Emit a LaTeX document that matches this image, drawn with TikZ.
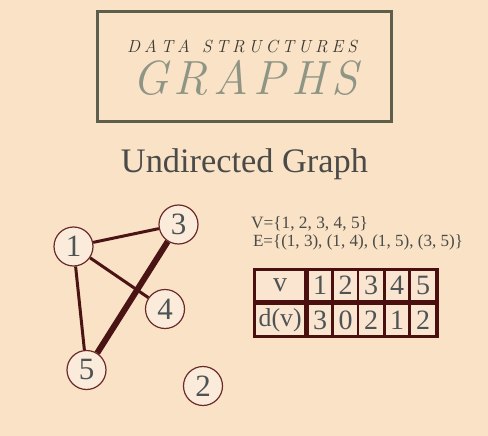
\documentclass[tikz,border=0pt]{standalone}
\usepackage{fontspec}
\newfontfamily\lib{Liberation Serif}
\definecolor{bg}{HTML}{F9E2C6}
\definecolor{framec}{HTML}{5E5E4C}
\definecolor{darktext}{HTML}{3C3A33}
\definecolor{graphsgray}{HTML}{8F9585}
\definecolor{titletext}{HTML}{4A4A48}
\definecolor{edgec}{HTML}{4B1414}
\definecolor{vborder}{HTML}{6B2A2A}
\definecolor{vfill}{HTML}{FBEBDB}
\definecolor{tabdark}{HTML}{4A0F0F}
\definecolor{cellfill}{HTML}{FAE6D0}
\definecolor{digitc}{HTML}{4E5456}
\tikzset{
  vertex/.style={circle, draw=vborder, line width=1.2pt, fill=vfill, minimum size=39pt, inner sep=0pt, text=digitc, font=\lib\fontsize{31}{33}\selectfont},
  edge/.style={draw=edgec, line width=3pt},
  thickedge/.style={draw=edgec, line width=6pt},
  cell/.style={rectangle, fill=cellfill, draw=none, inner sep=0pt, anchor=north west, text=digitc, font=\lib\fontsize{28}{30}\selectfont},
  plain/.style={inner sep=0pt, outer sep=0pt},
}
\begin{document}
\begin{tikzpicture}[x=1pt,y=-1pt]
\useasboundingbox (0,0) rectangle (488,436);
\fill[bg] (0,0) rectangle (488,436);
% header frame
\draw[framec, line width=3pt] (97.5,11.5) rectangle (391.5,121.5);
\node[plain, anchor=base west, text=darktext, font=\fontsize{17.5}{19}\selectfont\itshape] (ds) at (127,53)
  {\makebox[230pt][s]{D\hfill A\hfill T\hfill A\hspace{8pt plus 1fill}S\hfill T\hfill R\hfill U\hfill C\hfill T\hfill U\hfill R\hfill E\hfill S}};
\node[plain, anchor=base west, text=graphsgray, font=\fontsize{48}{50}\selectfont\itshape] (gr) at (132,95)
  {\makebox[226pt][s]{G\hfill R\hfill A\hfill P\hfill H\hfill S}};
% title
\node[plain, anchor=base, text=titletext] (title) at (244.5,172) {\resizebox{247pt}{!}{\lib Undirected Graph}};
% graph
\node[vertex] (n1) at (73.5,246.5) {1};
\node[vertex] (n3) at (178.5,224.5) {3};
\node[vertex] (n4) at (165,309) {4};
\node[vertex] (n5) at (86.5,370) {5};
\node[vertex] (n2) at (203,386) {2};
\draw[edge] (n1) -- (n3);
\draw[edge] (n1) -- (n4);
\draw[edge] (n1) -- (n5);
\draw[thickedge] (n3) -- (n5);
% sets
\node[plain, anchor=base west, text=titletext] (vset) at (251,228) {\resizebox{117pt}{!}{\lib V=\{1, 2, 3, 4, 5\}}};
\node[plain, anchor=base west, text=titletext] (eset) at (253,247) {\resizebox{210pt}{!}{\lib E=\{(1, 3), (1, 4), (1, 5), (3, 5)\}}};
% table
\fill[tabdark] (253,268) rectangle (439,338);
\node[cell, minimum width=48pt, minimum height=29pt] (cv) at (256,271) {v};
\node[cell, minimum width=48pt, minimum height=30pt] (cd) at (256,305) {\resizebox{43pt}{!}{d(v)}};
\node[cell, minimum width=22pt, minimum height=29pt] (c11) at (309,271) {1};
\node[cell, minimum width=23pt, minimum height=29pt] (c12) at (334,271) {2};
\node[cell, minimum width=24pt, minimum height=29pt] (c13) at (359,271) {3};
\node[cell, minimum width=22pt, minimum height=29pt] (c14) at (386,271) {4};
\node[cell, minimum width=24pt, minimum height=29pt] (c15) at (411,271) {5};
\node[cell, minimum width=22pt, minimum height=30pt] (c21) at (309,305) {3};
\node[cell, minimum width=23pt, minimum height=30pt] (c22) at (334,305) {0};
\node[cell, minimum width=24pt, minimum height=30pt] (c23) at (359,305) {2};
\node[cell, minimum width=22pt, minimum height=30pt] (c24) at (386,305) {1};
\node[cell, minimum width=24pt, minimum height=30pt] (c25) at (411,305) {2};
\end{tikzpicture}
\end{document}
